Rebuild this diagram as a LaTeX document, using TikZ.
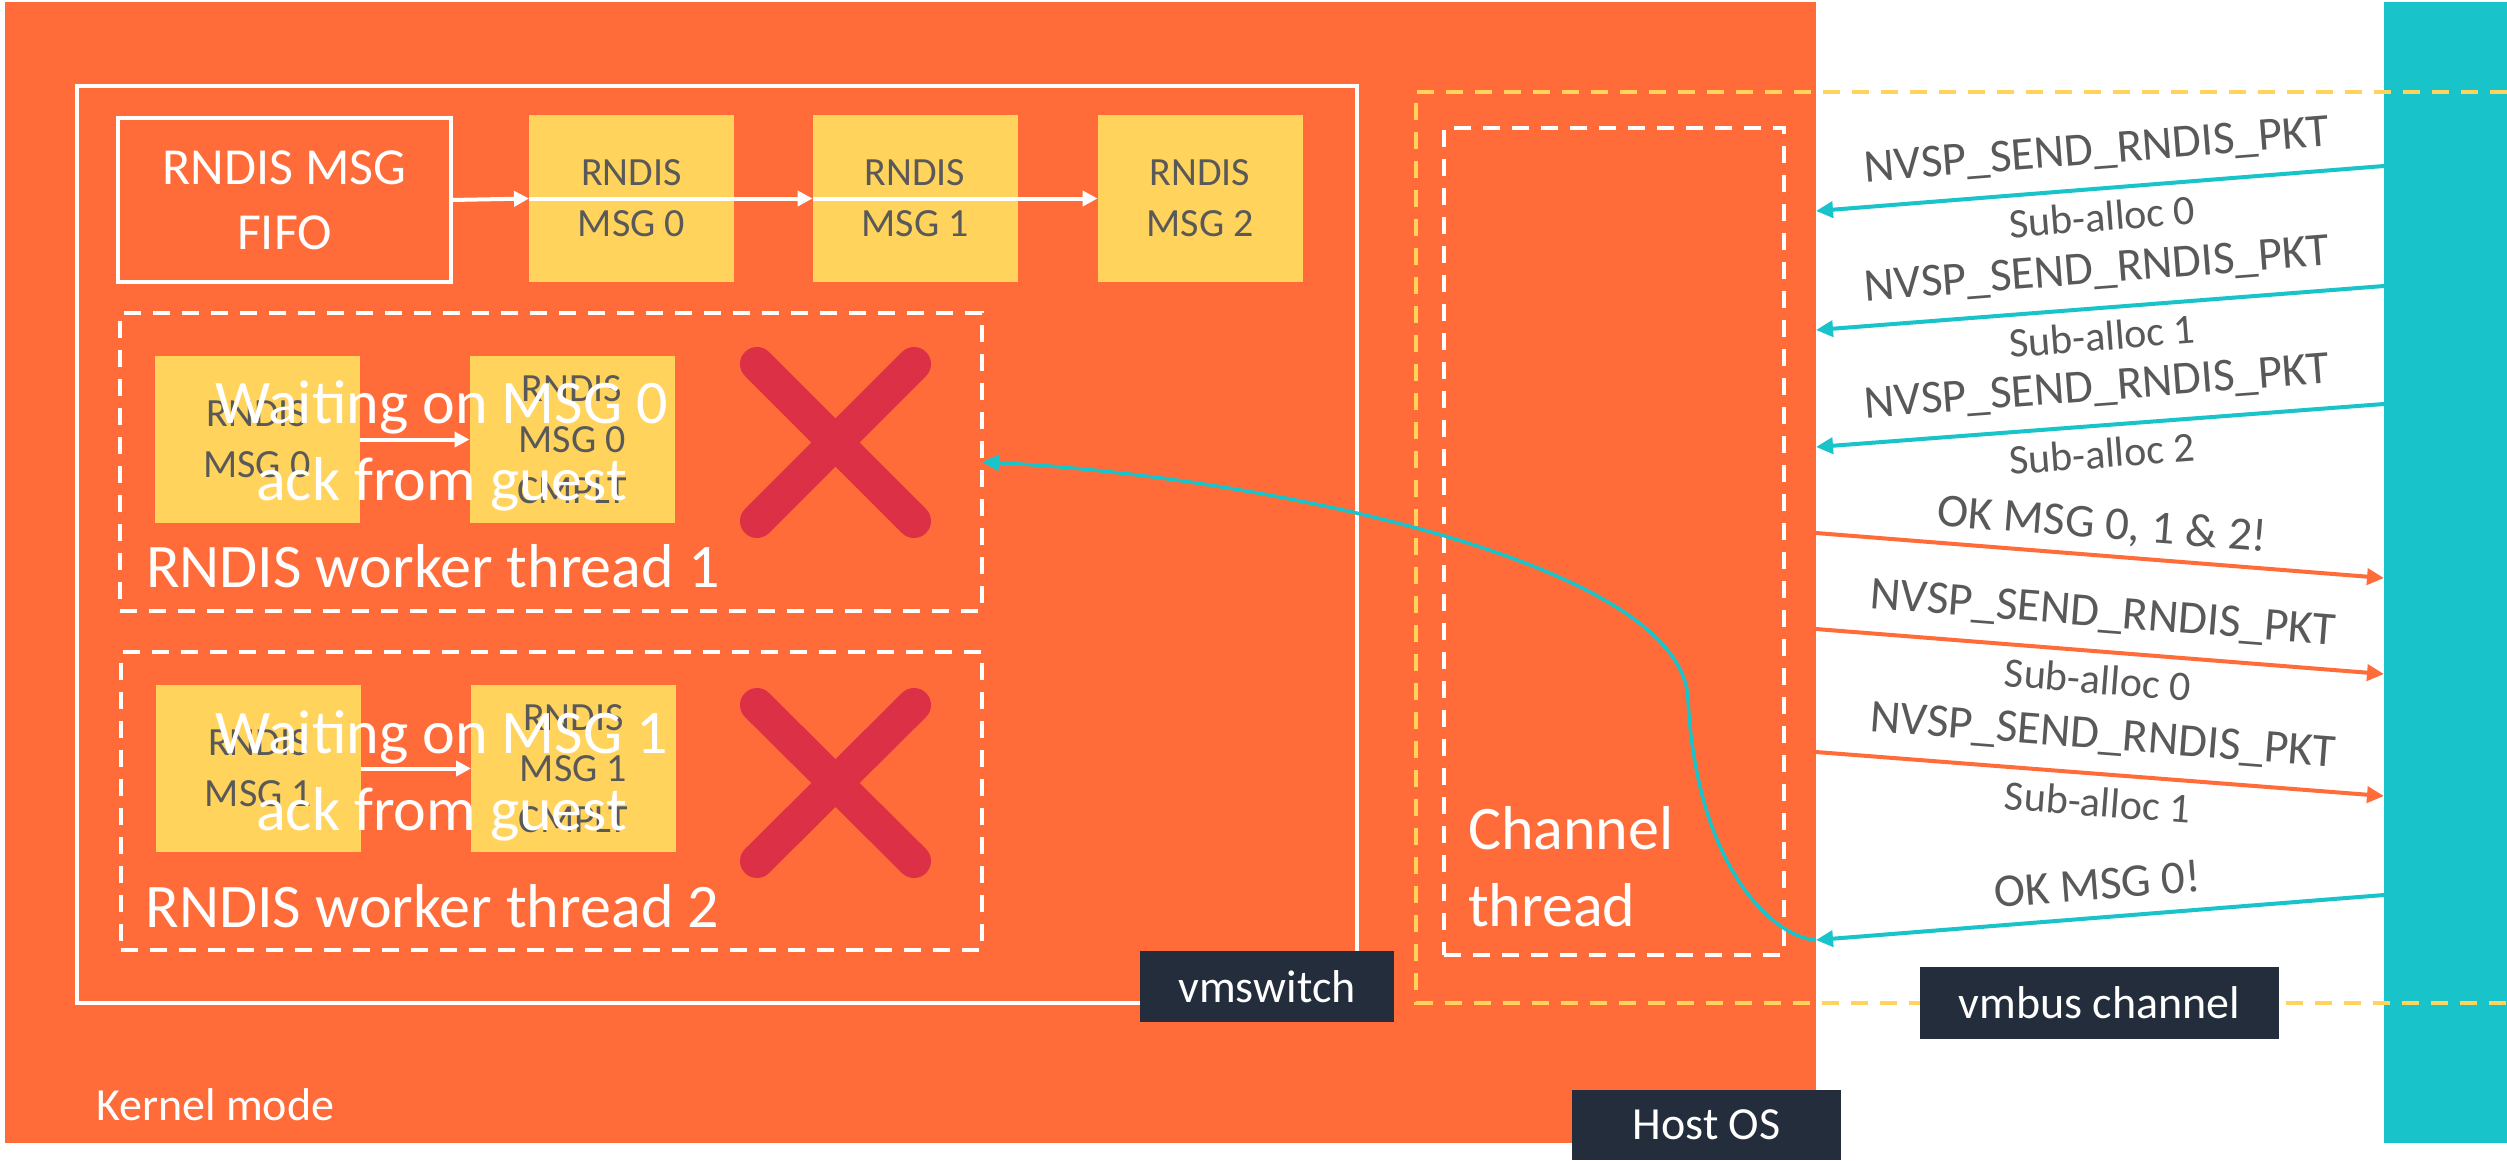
\documentclass[tikz,border=0pt]{standalone}
\usepackage{fontspec}
\setmainfont{Carlito}
\usetikzlibrary{arrows.meta}
\definecolor{kernelorange}{RGB}{255,108,58}
\definecolor{guestteal}{RGB}{24,195,202}
\definecolor{msgyellow}{RGB}{255,211,92}
\definecolor{xred}{RGB}{220,48,70}
\definecolor{tagnavy}{RGB}{35,45,60}
\definecolor{msggray}{RGB}{89,89,89}
\begin{document}
\begin{tikzpicture}[x=1pt, y=-1pt,
  every node/.style={inner sep=0pt, outer sep=0pt},
  solidbox/.style={draw=white, line width=3.5pt},
  threadbox/.style={draw=white, line width=4pt, dash pattern=on 17pt off 12pt},
  msgbox/.style={fill=msgyellow, text=msggray, align=center,
    minimum width=205pt, minimum height=167pt, font=\fontsize{40}{51}\selectfont},
  darktag/.style={fill=tagnavy, text=white, font=\fontsize{46}{55}\selectfont},
  biglabel/.style={text=white, font=\fontsize{62}{77}\selectfont},
  flowarrow/.style={white, line width=4pt, -{Triangle[length=15pt,width=15pt]}},
  busarrow/.style={line width=4pt, -{Triangle[length=17pt,width=16pt]}},
  pktlabel/.style={text=msggray, font=\fontsize{47}{56}\selectfont, sloped},
  alloclabel/.style={text=msggray, font=\fontsize{42}{50}\selectfont, sloped},
  redcross/.style={draw=xred, line width=34pt, line cap=round},
]
\useasboundingbox (0,0) rectangle (2507,1160);
\fill[white] (0,0) rectangle (2507,1160);

% host kernel area and guest side
\node[fill=kernelorange, minimum width=1811pt, minimum height=1141pt] (kernel) at (910.5,572.5) {};
\node[fill=guestteal, minimum width=123pt, minimum height=1141pt] (guest) at (2445.5,572.5) {};

% vmswitch
\node[solidbox, minimum width=1280pt, minimum height=917pt] (vmsw) at (717,544.5) {};

% RNDIS message queue
\node[solidbox, minimum width=333pt, minimum height=164pt, text=white, align=center,
  font=\fontsize{52}{65}\selectfont] (fifo) at (284.5,200) {RNDIS MSG\\FIFO};
\node[msgbox] (m0) at (631.5,198.5) {RNDIS\\MSG 0};
\node[msgbox] (m1) at (915,198.5) {RNDIS\\MSG 1};
\node[msgbox] (m2) at (1200,198.5) {RNDIS\\MSG 2};
\draw[flowarrow] (fifo.east) -- (m0.west);
\draw[flowarrow] (m0.west) -- (m1.west);
\draw[flowarrow] (m1.west) -- (m2.west);

% worker thread 1
\node[threadbox, minimum width=862pt, minimum height=298pt] (t1) at (551,462) {};
\node[msgbox] (t1a) at (257,439.5) {RNDIS\\MSG 0};
\node[msgbox] (t1b) at (572,439.5) {RNDIS\\MSG 0\\CMPLT};
\draw[flowarrow] (t1a.east) -- (t1b.west);
\draw[redcross] (757,364) -- (914,521) (914,364) -- (757,521);
\node[biglabel, align=center] (t1w) at (441.5,445.5) {Waiting on MSG 0\\ack from guest};
\node[biglabel, anchor=base west] (t1n) at (146,587) {RNDIS worker thread 1};

% worker thread 2
\node[threadbox, minimum width=861pt, minimum height=297.5pt] (t2) at (551.5,801) {};
\node[msgbox] (t2a) at (258.5,768.5) {RNDIS\\MSG 1};
\node[msgbox] (t2b) at (573.5,768.5) {RNDIS\\MSG 1\\CMPLT};
\draw[flowarrow] (t2a.east) -- (t2b.west);
\draw[redcross] (757,705) -- (914,861) (914,705) -- (757,861);
\node[biglabel, align=center] (t2w) at (441.5,776) {Waiting on MSG 1\\ack from guest};
\node[biglabel, anchor=base west] (t2n) at (145.5,927) {RNDIS worker thread 2};

% vmbus channel
\draw[msgyellow, line width=4pt, dash pattern=on 17pt off 12pt]
  (2507,92) -- (1416,92) -- (1416,1002.5) -- (2507,1002.5);
\node[threadbox, minimum width=339.5pt, minimum height=827pt] (chan) at (1614,541) {};
\node[biglabel, align=left, anchor=west] (chanlbl) at (1468,866.4) {Channel\\thread};

% packet exchange
\coordinate (g1) at (2384,166);  \coordinate (k1) at (1816,211);
\coordinate (g2) at (2384,286);  \coordinate (k2) at (1816,330);
\coordinate (g3) at (2384,404);  \coordinate (k3) at (1816,447);
\coordinate (k4) at (1816,533);  \coordinate (g4) at (2384,578);
\coordinate (k5) at (1816,629);  \coordinate (g5) at (2384,674);
\coordinate (k6) at (1816,752);  \coordinate (g6) at (2384,796);
\coordinate (g7) at (2384,895);  \coordinate (k7) at (1816,940);

\draw[busarrow, guestteal] (g1) -- node[pktlabel, yshift=37pt] {NVSP\_SEND\_RNDIS\_PKT}
  node[alloclabel, yshift=-28pt] {Sub-alloc 0} (k1);
\draw[busarrow, guestteal] (g2) -- node[pktlabel, yshift=37pt] {NVSP\_SEND\_RNDIS\_PKT}
  node[alloclabel, yshift=-28pt] {Sub-alloc 1} (k2);
\draw[busarrow, guestteal] (g3) -- node[pktlabel, yshift=37pt] {NVSP\_SEND\_RNDIS\_PKT}
  node[alloclabel, yshift=-28pt] {Sub-alloc 2} (k3);
\draw[busarrow, kernelorange] (k4) -- node[pktlabel, yshift=30pt] {OK MSG 0, 1 \& 2!} (g4);
\draw[busarrow, kernelorange] (k5) -- node[pktlabel, yshift=37pt] {NVSP\_SEND\_RNDIS\_PKT}
  node[alloclabel, yshift=-28pt] {Sub-alloc 0} (g5);
\draw[busarrow, kernelorange] (k6) -- node[pktlabel, yshift=37pt] {NVSP\_SEND\_RNDIS\_PKT}
  node[alloclabel, yshift=-28pt] {Sub-alloc 1} (g6);
\draw[busarrow, guestteal] (g7) -- node[pktlabel, yshift=34pt] {OK MSG 0!} (k7);

% completion handed back to worker thread 1
\draw[busarrow, guestteal, line width=3.5pt] (k7) .. controls (1775,938) and (1697,870) .. (1688,700)
  .. controls (1684,560) and (1250,475) .. (t1.east);

% labels
\node[darktag, minimum width=254pt, minimum height=71pt] (vmswtag) at (1267,986.5) {vmswitch};
\node[darktag, minimum width=359pt, minimum height=72pt] (bustag) at (2099.5,1003) {vmbus channel};
\node[darktag, minimum width=269pt, minimum height=70pt] (hosttag) at (1706.5,1125) {Host OS};
\node[text=white, font=\fontsize{46}{54}\selectfont, anchor=base west] (kmode) at (96,1120) {Kernel mode};
\end{tikzpicture}
\end{document}
